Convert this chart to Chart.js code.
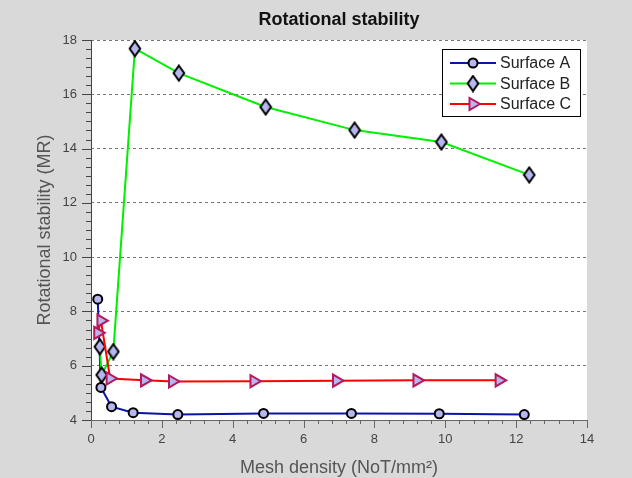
<!DOCTYPE html>
<html>
<head>
<meta charset="utf-8">
<script src="https://cdn.jsdelivr.net/npm/chart.js@4.4.1/dist/chart.umd.min.js"></script>
<style>
  html, body { margin: 0; padding: 0; background: #d9d9d9; }
  #wrap { width: 632px; height: 478px; }
</style>
</head>
<body>
<div id="wrap"><canvas id="grafico" width="632" height="478"></canvas></div>
<script>
// Valores (densidade da malha x estabilidade)
const surfaceAX = [0.19, 0.28, 0.58, 1.19, 2.45, 4.87, 7.35, 9.83, 12.23];
const surfaceAY = [8.45, 5.2, 4.49, 4.27, 4.2, 4.24, 4.24, 4.23, 4.2];

const surfaceBX = [0.25, 0.30, 0.63, 1.24, 2.48, 4.93, 7.44, 9.89, 12.37];
const surfaceBY = [6.7, 5.66, 6.52, 17.68, 16.78, 15.53, 14.68, 14.24, 13.03];

const surfaceCX = [0.19, 0.28, 0.54, 1.51, 2.3, 4.6, 6.93, 9.2, 11.52];
const surfaceCY = [7.21, 7.66, 5.53, 5.46, 5.42, 5.43, 5.45, 5.46, 5.46];

const seriesNames = ['Surface A', 'Surface B', 'Surface C'];

// Eixos
const xMin = 0, xMax = 14, xStep = 2, xMinorStep = 0.4;
const yMin = 4, yMax = 18, yStep = 2, yMinorStep = 2 / 6;

const fonte = '"Liberation Sans", Arial, sans-serif';
const corMarcador = '#b6b6f0';

// losango alto, como no original
function criarLosango() {
  const c = document.createElement('canvas');
  c.width = 14; c.height = 18;
  const g = c.getContext('2d');
  g.beginPath();
  g.moveTo(7, 1.5); g.lineTo(12.3, 9); g.lineTo(7, 16.5); g.lineTo(1.7, 9);
  g.closePath();
  g.fillStyle = corMarcador; g.fill();
  g.lineWidth = 2; g.strokeStyle = '#000'; g.stroke();
  return c;
}
const losango = criarLosango();

function pares(xs, ys) {
  return xs.map((x, i) => ({ x: x, y: ys[i] }));
}

// Fundo cinza + área branca
const fundoPlugin = {
  id: 'fundo',
  beforeDraw(chart) {
    const { ctx, chartArea: a } = chart;
    ctx.save();
    ctx.fillStyle = '#d9d9d9';
    ctx.fillRect(0, 0, chart.width, chart.height);
    ctx.fillStyle = '#ffffff';
    ctx.fillRect(a.left, a.top, a.right - a.left, a.bottom - a.top);
    ctx.restore();
  }
};

// Linhas dos eixos e marcas (maiores e menores)
const eixosPlugin = {
  id: 'eixos',
  beforeDatasetsDraw(chart) {
    const { ctx, chartArea: a, scales: { x, y } } = chart;
    ctx.save();
    ctx.lineWidth = 1;

    // eixo x
    ctx.strokeStyle = '#666';
    ctx.beginPath();
    ctx.moveTo(a.left, a.bottom + 0.5); ctx.lineTo(a.right, a.bottom + 0.5);
    const nx = Math.round((xMax - xMin) / xMinorStep);
    const porMaiorX = Math.round(xStep / xMinorStep);
    for (let i = 0; i <= nx; i++) {
      const px = Math.round(x.getPixelForValue(xMin + i * xMinorStep)) + 0.5;
      const len = i % porMaiorX === 0 ? 8 : 4;
      ctx.moveTo(px, a.bottom); ctx.lineTo(px, a.bottom + len);
    }
    ctx.stroke();

    // eixo y
    ctx.strokeStyle = '#444';
    ctx.beginPath();
    ctx.moveTo(a.left + 0.5, a.top); ctx.lineTo(a.left + 0.5, a.bottom);
    const ny = Math.round((yMax - yMin) / yMinorStep);
    const porMaiorY = Math.round(yStep / yMinorStep);
    for (let i = 0; i <= ny; i++) {
      const py = Math.round(y.getPixelForValue(yMin + i * yMinorStep)) + 0.5;
      const len = i % porMaiorY === 0 ? 9 : 5;
      ctx.moveTo(a.left, py); ctx.lineTo(a.left - len, py);
    }
    ctx.stroke();
    ctx.restore();
  }
};

// Legenda dentro da área do gráfico
const legendaPlugin = {
  id: 'legendaInterna',
  afterDraw(chart) {
    const { ctx } = chart;
    const bx = 442, by = 49, bw = 138, bh = 67;
    ctx.save();
    ctx.fillStyle = '#ffffff';
    ctx.fillRect(bx, by, bw, bh);
    ctx.strokeStyle = '#000';
    ctx.lineWidth = 1;
    ctx.strokeRect(bx + 0.5, by + 0.5, bw, bh);

    ctx.font = '16px ' + fonte;
    ctx.textBaseline = 'middle';
    chart.data.datasets.forEach((ds, i) => {
      const ly = by + 14 + i * 20.5;
      ctx.strokeStyle = ds.borderColor;
      ctx.lineWidth = 2;
      ctx.beginPath();
      ctx.moveTo(bx + 8, ly); ctx.lineTo(bx + 54, ly);
      ctx.stroke();

      ctx.fillStyle = ds.pointBackgroundColor;
      ctx.strokeStyle = ds.pointBorderColor;
      ctx.lineWidth = ds.pointBorderWidth;
      Chart.helpers.drawPoint(ctx, {
        pointStyle: ds.pointStyle,
        rotation: ds.pointRotation || 0,
        radius: ds.pointRadius,
        borderWidth: ds.pointBorderWidth
      }, bx + 31, ly);

      ctx.fillStyle = '#222';
      ctx.fillText(ds.label, bx + 58, ly + 1);
    });
    ctx.restore();
  }
};

new Chart(document.getElementById('grafico'), {
  type: 'scatter',
  data: {
    datasets: [
      {
        label: seriesNames[0],
        data: pares(surfaceAX, surfaceAY),
        showLine: true,
        borderColor: '#0a14a8',
        borderWidth: 2,
        pointStyle: 'circle',
        pointRadius: 4.5,
        pointHoverRadius: 4.5,
        pointBackgroundColor: corMarcador,
        pointBorderColor: '#000',
        pointBorderWidth: 2,
        order: 3
      },
      {
        label: seriesNames[1],
        data: pares(surfaceBX, surfaceBY),
        showLine: true,
        borderColor: '#00f000',
        borderWidth: 2,
        pointStyle: losango,
        pointRadius: 6,
        pointHoverRadius: 6,
        pointBackgroundColor: corMarcador,
        pointBorderColor: '#000',
        pointBorderWidth: 2,
        order: 2
      },
      {
        label: seriesNames[2],
        data: pares(surfaceCX, surfaceCY),
        showLine: true,
        borderColor: '#ff0000',
        borderWidth: 2,
        pointStyle: 'triangle',
        pointRotation: 90,
        pointRadius: 7,
        pointHoverRadius: 7,
        pointBackgroundColor: corMarcador,
        pointBorderColor: '#b8185c',
        pointBorderWidth: 2,
        order: 1
      }
    ]
  },
  options: {
    responsive: false,
    animation: false,
    clip: false,
    layout: { padding: { left: 0, right: 45, top: 0, bottom: 0 } },
    plugins: {
      legend: { display: false },
      tooltip: { enabled: false },
      title: {
        display: true,
        text: 'Rotational stability',
        fullSize: false,
        color: '#111',
        font: { family: fonte, size: 18, weight: 'bold' },
        padding: { top: 9, bottom: 9.4 }
      }
    },
    scales: {
      x: {
        type: 'linear',
        min: xMin,
        max: xMax,
        afterFit: (s) => { s.height = 58; },
        ticks: {
          stepSize: xStep,
          padding: 12,
          color: '#444',
          font: { family: fonte, size: 13 }
        },
        grid: { display: false, drawTicks: false },
        border: { display: false },
        title: {
          display: true,
          text: 'Mesh density (NoT/mm²)',
          color: '#555',
          font: { family: fonte, size: 18 },
          padding: { top: 0, bottom: -1 }
        }
      },
      y: {
        type: 'linear',
        min: yMin,
        max: yMax,
        afterFit: (s) => { s.width = 91; },
        ticks: {
          stepSize: yStep,
          padding: 14,
          color: '#444',
          font: { family: fonte, size: 13 }
        },
        grid: { color: '#777', lineWidth: 1, drawTicks: false },
        border: { display: false, dash: [3, 3] },
        title: {
          display: true,
          text: 'Rotational stability (MR)',
          color: '#555',
          font: { family: fonte, size: 18 },
          padding: { top: 34, bottom: 0 }
        }
      }
    }
  },
  plugins: [fundoPlugin, eixosPlugin, legendaPlugin]
});
</script>
</body>
</html>
